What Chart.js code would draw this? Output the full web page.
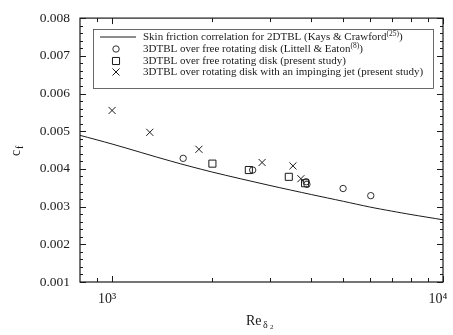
<!DOCTYPE html>
<html>
<head>
<meta charset="utf-8">
<script src="https://cdn.jsdelivr.net/npm/chart.js@4"></script>
<style>
  body { margin: 0; background: #fff; }
  canvas { display: block; }
</style>
</head>
<body>
<canvas id="graphique-cf" width="453" height="335"></canvas>
<script>
// correlation 2DTBL (Kays & Crawford)
const reCorrelation = [800, 1000, 1500, 2000, 3000, 4000, 5000, 6000, 7000, 8000, 10000]
const cfCorrelation = [0.00489, 0.00466, 0.00421, 0.00392, 0.00356, 0.00332, 0.00314, 0.00299, 0.00288, 0.00279, 0.00265]

// Littell & Eaton
const reLittell = [1640, 2660, 3860, 3880, 4990, 6050]
const cfLittell = [0.00428, 0.00397, 0.00366, 0.00359, 0.00348, 0.00329]

// disque libre (present study)
const reLibre = [2010, 2590, 3420, 3830]
const cfLibre = [0.00414, 0.00397, 0.00379, 0.00362]

// disque avec jet
const reJet = [1000, 1300, 1830, 2840, 3520, 3720]
const cfJet = [0.00555, 0.00497, 0.00452, 0.00417, 0.00408, 0.00374]

const xTicks = [900, 1000, 2000, 3000, 4000, 5000, 6000, 7000, 8000, 9000, 10000]
const xLabels = { 1000: "10³", 10000: "10⁴" }

const legendLabels = [
    "Skin friction correlation for 2DTBL (Kays & Crawford",
    "3DTBL over free rotating disk (Littell & Eaton",
    "3DTBL over free rotating disk (present study)",
    "3DTBL over rotating disk with an impinging jet (present study)"
]
const legendSup = ["(25)", "(8)", "", ""]

const encre = "#1a1a1a"
const serif = "'Liberation Serif', 'DejaVu Serif', serif"

function points(xs, ys) {
    return xs.map((x, i) => ({ x: x, y: ys[i] }))
}

// cadre, graduations, legende et titres d'axes
const decor = {
    id: "decor",
    afterDraw(chart) {
        const ctx = chart.ctx
        const x = chart.scales.x
        const y = chart.scales.y
        const gauche = x.getPixelForValue(800)
        const droite = x.getPixelForValue(10000)
        const haut = y.getPixelForValue(0.008)
        const bas = y.getPixelForValue(0.001)
        ctx.save()
        ctx.strokeStyle = encre
        ctx.lineWidth = 1.2
        ctx.strokeRect(gauche, haut, droite - gauche, bas - haut)

        ctx.lineWidth = 1
        ctx.beginPath()
        for (const v of xTicks) {
            const px = Math.round(x.getPixelForValue(v)) + 0.5
            const len = xLabels[v] ? 6 : 4
            ctx.moveTo(px, bas); ctx.lineTo(px, bas - len)
            ctx.moveTo(px, haut); ctx.lineTo(px, haut + len)
        }
        for (let i = 0; i <= 35; i++) {
            const v = 0.001 + i * 0.0002
            const py = Math.round(y.getPixelForValue(v)) + 0.5
            const len = i % 5 === 0 ? 6 : 3
            ctx.moveTo(gauche, py); ctx.lineTo(gauche + len, py)
            ctx.moveTo(droite, py); ctx.lineTo(droite - len, py)
        }
        ctx.stroke()

        // etiquettes de l'axe x
        ctx.fillStyle = encre
        ctx.textAlign = "center"
        ctx.textBaseline = "middle"
        ctx.font = "14px " + serif
        for (const v of xTicks) {
            if (xLabels[v]) {
                ctx.fillText(xLabels[v], x.getPixelForValue(v) - 5, bas + 17)
            }
        }
        ctx.textAlign = "left"

        // legende
        ctx.lineWidth = 0.8
        ctx.strokeStyle = "#444"
        ctx.strokeRect(93.5, 29.5, 340, 59)
        const rows = [37, 49, 61, 72]
        chart.data.datasets.forEach((ds, i) => {
            const ry = rows[i]
            ctx.strokeStyle = encre
            if (i === 0) {
                ctx.lineWidth = 1
                ctx.beginPath()
                ctx.moveTo(100, ry); ctx.lineTo(136, ry)
                ctx.stroke()
            } else {
                ctx.fillStyle = "rgba(255,255,255,0)"
                ctx.lineWidth = ds.borderWidth
                Chart.helpers.drawPoint(ctx, {
                    pointStyle: ds.pointStyle,
                    radius: ds.pointRadius,
                    borderWidth: ds.borderWidth
                }, 116, ry)
            }
            ctx.fillStyle = encre
            ctx.font = "11px " + serif
            ctx.fillText(legendLabels[i], 143, ry)
            let w = ctx.measureText(legendLabels[i]).width
            if (legendSup[i]) {
                ctx.font = "7.5px " + serif
                ctx.fillText(legendSup[i], 143 + w, ry - 3)
                const ws = ctx.measureText(legendSup[i]).width
                ctx.font = "11px " + serif
                ctx.fillText(")", 143 + w + ws, ry)
            }
        })

        // titre axe y : c_f
        ctx.translate(16, 150)
        ctx.rotate(-Math.PI / 2)
        ctx.font = "14px " + serif
        ctx.fillText("c", -6, 0)
        ctx.font = "10px " + serif
        ctx.fillText("f", 1, 4)
        ctx.setTransform(1, 0, 0, 1, 0, 0)

        // titre axe x : Re_δ2
        ctx.font = "14px " + serif
        ctx.fillText("Re", 246, 321)
        ctx.font = "10px " + serif
        ctx.fillText("δ", 263, 325)
        ctx.font = "7px " + serif
        ctx.fillText("2", 270, 327)
        ctx.restore()
    }
}

const config = {
    type: "scatter",
    data: {
        datasets: [
            {
                type: "line",
                label: legendLabels[0],
                data: points(reCorrelation, cfCorrelation),
                borderColor: encre,
                borderWidth: 1,
                pointRadius: 0,
                tension: 0.3
            },
            {
                label: legendLabels[1],
                data: points(reLittell, cfLittell),
                pointStyle: "circle",
                pointRadius: 3.2,
                borderColor: encre,
                backgroundColor: "rgba(255,255,255,0)",
                borderWidth: 0.9
            },
            {
                label: legendLabels[2],
                data: points(reLibre, cfLibre),
                pointStyle: "rect",
                pointRadius: 5,
                borderColor: encre,
                backgroundColor: "rgba(255,255,255,0)",
                borderWidth: 1
            },
            {
                label: legendLabels[3],
                data: points(reJet, cfJet),
                pointStyle: "crossRot",
                pointRadius: 5,
                borderColor: encre,
                borderWidth: 1
            }
        ]
    },
    options: {
        responsive: false,
        animation: false,
        devicePixelRatio: 1,
        layout: { padding: { left: 36, top: 14, right: 10, bottom: 0 } },
        plugins: {
            legend: { display: false },
            tooltip: { enabled: false }
        },
        scales: {
            x: {
                type: "logarithmic",
                min: 800,
                max: 10000,
                afterBuildTicks: (scale) => {
                    scale.ticks = xTicks.map(v => ({ value: v }))
                },
                afterFit: (scale) => { scale.height = 53 },
                grid: { display: false, drawTicks: false },
                border: { display: false },
                ticks: { display: false }
            },
            y: {
                min: 0.001,
                max: 0.008,
                afterBuildTicks: (scale) => {
                    const t = []
                    for (let i = 1; i <= 8; i++) t.push({ value: i / 1000 })
                    scale.ticks = t
                },
                afterFit: (scale) => { scale.width = 44 },
                grid: { display: false, drawTicks: false },
                border: { display: false },
                ticks: {
                    padding: 10,
                    color: encre,
                    font: { family: serif, size: 13.5 },
                    callback: (v) => v.toFixed(3)
                }
            }
        }
    },
    plugins: [decor]
}

new Chart(document.querySelector("#graphique-cf"), config)
</script>
</body>
</html>
